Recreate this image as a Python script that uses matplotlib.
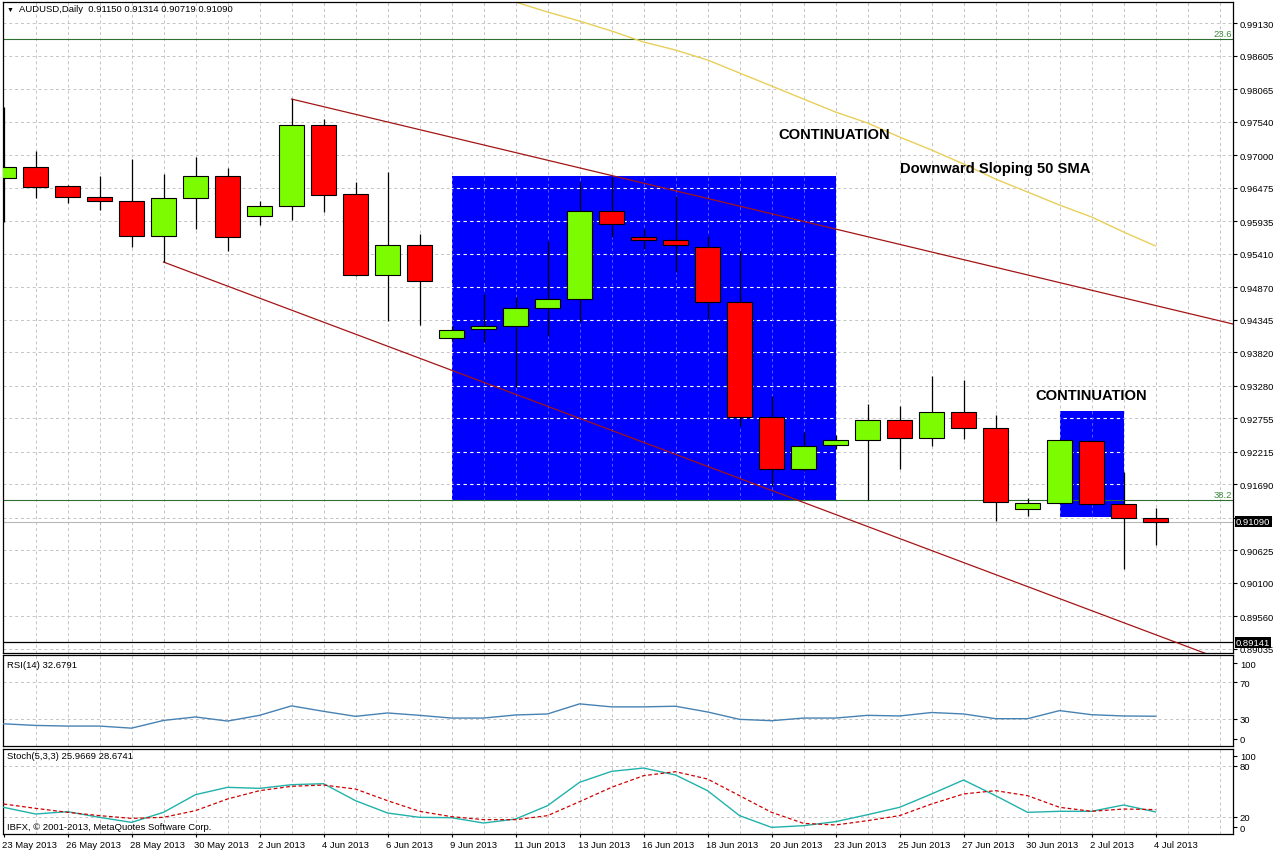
import numpy as np
import matplotlib
matplotlib.use("Agg")
import matplotlib.pyplot as plt
import matplotlib.transforms as mtransforms
from matplotlib.patches import Rectangle

plt.rcParams["font.family"] = ["Liberation Sans", "DejaVu Sans"]

# ---- daily AUDUSD bars (23 May 2013 .. 4 Jul 2013, IBFX feed incl. Sunday bars)
OPEN = [0.96634, 0.96812, 0.96505, 0.96328, 0.96263, 0.95698, 0.96311, 0.96666,
        0.96021, 0.96182, 0.97490, 0.96376, 0.95069, 0.95553, 0.94052, 0.94197,
        0.94245, 0.94536, 0.94681, 0.96102, 0.95682, 0.95634, 0.95521, 0.94633,
        0.92777, 0.91937, 0.92325, 0.92405, 0.92728, 0.92438, 0.92857, 0.92599,
        0.91292, 0.91389, 0.92389, 0.91372, 0.91150]
HIGH = [0.97780, 0.97070, 0.96521, 0.96666, 0.96941, 0.96699, 0.96973, 0.96796,
        0.96263, 0.97909, 0.97586, 0.96570, 0.96731, 0.95730, 0.94245, 0.94762,
        0.94714, 0.95617, 0.96570, 0.96650, 0.95811, 0.96344, 0.95698, 0.95456,
        0.93116, 0.92535, 0.92486, 0.92987, 0.92954, 0.93438, 0.93374, 0.92809,
        0.91469, 0.92422, 0.92405, 0.91889, 0.91314]
LOW = [0.95924, 0.96311, 0.96231, 0.96118, 0.95521, 0.95278, 0.95811, 0.95456,
       0.95876, 0.95956, 0.96085, 0.95052, 0.94326, 0.94262, 0.94003, 0.93987,
       0.93261, 0.94084, 0.94310, 0.95682, 0.95488, 0.95117, 0.94358, 0.92631,
       0.91663, 0.91905, 0.92260, 0.91437, 0.91937, 0.92309, 0.92422, 0.91098,
       0.91179, 0.91372, 0.91356, 0.90323, 0.90719]
CLOSE = [0.96812, 0.96489, 0.96328, 0.96263, 0.95698, 0.96311, 0.96666, 0.95682,
         0.96182, 0.97490, 0.96360, 0.95069, 0.95553, 0.94972, 0.94181, 0.94245,
         0.94536, 0.94681, 0.96102, 0.95892, 0.95634, 0.95553, 0.94633, 0.92777,
         0.91937, 0.92309, 0.92405, 0.92728, 0.92438, 0.92857, 0.92599, 0.91405,
         0.91389, 0.92405, 0.91372, 0.91150, 0.91090]

# 50 SMA, bars 15..36 (enters the window from above)
SMA_START = 15
SMA50 = [0.99636, 0.99475, 0.99313, 0.99168, 0.99007, 0.98829, 0.98700, 0.98539,
         0.98329, 0.98119, 0.97909, 0.97699, 0.97522, 0.97296, 0.97086, 0.96860,
         0.96618, 0.96408, 0.96198, 0.96005, 0.95763, 0.95537]

RSI = [24.4, 22.6, 21.9, 21.9, 19.6, 28.1, 31.9, 27.4, 33.7, 44.1, 38.1, 32.6,
       36.3, 33.7, 30.7, 30.7, 34.1, 35.2, 46.3, 43.0, 43.0, 43.7, 37.4, 29.3,
       27.8, 30.7, 30.7, 33.7, 33.0, 36.8, 35.2, 30.0, 30.0, 38.9, 34.4, 33.0, 32.7]
STOCH_K = [31.4, 23.5, 26.3, 19.6, 13.7, 25.5, 46.3, 54.9, 53.7, 58.0, 59.2, 39.2,
           24.7, 19.6, 19.2, 12.9, 17.6, 33.3, 60.8, 73.7, 77.6, 69.4, 51.0, 21.6,
           7.8, 9.8, 14.5, 22.7, 31.4, 47.1, 63.5, 45.1, 25.5, 26.7, 26.7, 34.1, 26.0]
STOCH_D = [35.3, 30.2, 25.5, 21.6, 18.4, 19.6, 27.5, 41.2, 51.0, 56.1, 57.6, 52.9,
           39.2, 26.7, 20.4, 16.9, 16.9, 21.6, 38.0, 54.9, 68.6, 73.3, 64.7, 45.1,
           25.5, 12.5, 10.6, 15.7, 21.6, 35.3, 47.1, 51.0, 45.1, 31.4, 26.7, 29.4, 28.7]

# drawn objects (bar index, price)
UPPER_LINE = ([9, 39], [0.97909, 0.94206])
LOWER_LINE = ([5, 39], [0.95278, 0.88682])
FIB_LEVELS = [(0.98873, "23.6"), (0.91437, "38.2")]
BOXES = [(14, 26, 0.91437, 0.96666), (33, 35, 0.91163, 0.92873)]
LAST_PRICE = 0.91090
HLINE_PRICE = 0.89141

PRICE_TICKS = [0.99130, 0.98605, 0.98065, 0.97540, 0.97000, 0.96475, 0.95935,
               0.95410, 0.94870, 0.94345, 0.93820, 0.93280, 0.92755, 0.92215,
               0.91690, 0.91150, 0.90625, 0.90100, 0.89560, 0.89035]
DATE_POS = list(range(0, 37, 2))
DATE_LABELS = ["23 May 2013", "26 May 2013", "28 May 2013", "30 May 2013",
               "2 Jun 2013", "4 Jun 2013", "6 Jun 2013", "9 Jun 2013",
               "11 Jun 2013", "13 Jun 2013", "16 Jun 2013", "18 Jun 2013",
               "20 Jun 2013", "23 Jun 2013", "25 Jun 2013", "27 Jun 2013",
               "30 Jun 2013", "2 Jul 2013", "4 Jul 2013"]

BULL, BEAR = "#7cfc00", "#ff0000"
GRID = "#c4c4c4"
DASH = (0, (3, 3))
FS = 6.8
W, H = 1276, 853


def px_box(x0, y0, x1, y1):
    return [x0 / W, 1 - y1 / H, (x1 - x0) / W, (y1 - y0) / H]


fig = plt.figure(figsize=(W / 100, H / 100), dpi=100)
ax = fig.add_axes(px_box(3, 3, 1233, 654))
ax_rsi = fig.add_axes(px_box(3, 656, 1233, 747))
ax_st = fig.add_axes(px_box(3, 750, 1233, 835))

XLIM = (-0.016, 38.42)
for a in (ax, ax_rsi, ax_st):
    a.set_xlim(*XLIM)
    for s in a.spines.values():
        s.set_linewidth(0.9)
        s.set_color("black")
    a.yaxis.tick_right()
    a.tick_params(axis="y", direction="out", length=3, width=0.8, pad=2,
                  labelsize=FS, colors="black")
    a.tick_params(axis="x", direction="out", length=2, width=0.8, pad=2,
                  labelsize=FS)
    for i in range(1, 39):
        a.axvline(i, color=GRID, lw=0.7, ls=DASH, zorder=0.5)

# ---- main price window
ax.set_ylim(0.88968, 0.99475)
ax.set_yticks(PRICE_TICKS)
ax.set_yticklabels([f"{p:.5f}" for p in PRICE_TICKS])
ax.set_xticks([])
for p in PRICE_TICKS:
    ax.axhline(p, color=GRID, lw=0.7, ls=DASH, zorder=0.5)

for x0, x1, y0, y1 in BOXES:
    rect = Rectangle((x0, y0), x1 - x0, y1 - y0, fc="#0000ff", ec="none", zorder=1)
    ax.add_patch(rect)
    for p in PRICE_TICKS:
        ln = ax.axhline(p, color="white", lw=0.8, ls=DASH, zorder=1.1)
        ln.set_clip_path(rect)
    for i in range(1, 39):
        ln = ax.axvline(i, color="#5c5cff", lw=0.7, ls=DASH, zorder=1.1)
        ln.set_clip_path(rect)

blend = mtransforms.blended_transform_factory(ax.transAxes, ax.transData)
for lvl, name in FIB_LEVELS:
    ax.axhline(lvl, color="#2f6f2f", lw=0.8, zorder=1.5)
    ax.annotate(name, xy=(1, lvl), xycoords=blend, xytext=(-1, 1.5),
                textcoords="offset pixels", ha="right", va="bottom",
                fontsize=FS, color="#3c8a3c")

ax.axhline(LAST_PRICE, color="#b8b8b8", lw=0.8, zorder=1.4)
ax.axhline(HLINE_PRICE, color="black", lw=0.9, zorder=1.5)

ax.plot(*UPPER_LINE, color="#a31515", lw=0.9, zorder=2)
ax.plot(*LOWER_LINE, color="#a31515", lw=0.9, zorder=2)
ax.plot(range(SMA_START, SMA_START + len(SMA50)), SMA50, color="#e8cf5a",
        lw=1.0, zorder=2)

o = np.array(OPEN)
c = np.array(CLOSE)
xs = np.arange(len(OPEN))
ax.vlines(xs, LOW, HIGH, color="black", lw=0.9, zorder=3)
body = np.maximum(np.abs(c - o), 0.00012)
ax.bar(xs, body, bottom=np.minimum(o, c), width=0.78,
       color=[BULL if cc >= oo else BEAR for oo, cc in zip(o, c)],
       edgecolor="black", linewidth=0.8, zorder=4)

bold = dict(fontsize=10.6, fontweight="bold", color="black", zorder=6,
            ha="left", va="baseline")
ax.text(24.2, 0.97280, "CONTINUATION", **bold)
ax.text(28.02, 0.96739, "Downward Sloping 50 SMA", **bold)
ax.text(32.23, 0.93067, "CONTINUATION", **bold)

for val in (LAST_PRICE, HLINE_PRICE):
    ax.annotate(f"{val:.5f}", xy=(1, val), xycoords=blend, xytext=(3, 0),
                textcoords="offset pixels", ha="left", va="center",
                fontsize=FS, color="white", annotation_clip=False, zorder=10,
                bbox=dict(boxstyle="square,pad=0.12", fc="black", ec="none"))

ax.annotate("\u25bc", xy=(0, 1), xycoords="axes fraction", xytext=(4, -7),
            textcoords="offset pixels", ha="left", va="center", fontsize=5)
ax.annotate("AUDUSD,Daily  0.91150 0.91314 0.90719 0.91090", xy=(0, 1),
            xycoords="axes fraction", xytext=(16, -7), textcoords="offset pixels",
            ha="left", va="center", fontsize=FS)

# ---- RSI window
ax_rsi.set_ylim(0, 100)
ax_rsi.set_xticks([])
ax_rsi.set_yticks([91, 70, 30, 8])
ax_rsi.set_yticklabels(["100", "70", "30", "0"])
for lv in (70, 30):
    ax_rsi.axhline(lv, color=GRID, lw=0.7, ls=DASH, zorder=0.5)
ax_rsi.plot(xs, RSI, color="#4682b4", lw=1.0, zorder=3)
ax_rsi.annotate("RSI(14) 32.6791", xy=(0, 1), xycoords="axes fraction",
                xytext=(4, -10), textcoords="offset pixels", ha="left",
                va="center", fontsize=FS)

# ---- Stochastic window
ax_st.set_ylim(0, 100)
ax_st.set_yticks([92, 80, 20, 8])
ax_st.set_yticklabels(["100", "80", "20", "0"])
for lv in (80, 20):
    ax_st.axhline(lv, color=GRID, lw=0.7, ls=DASH, zorder=0.5)
ax_st.plot(xs, STOCH_K, color="#20b2aa", lw=1.0, zorder=3)
ax_st.plot(xs, STOCH_D, color="#d00000", lw=0.9, ls=(0, (3, 2)), zorder=3)
ax_st.annotate("Stoch(5,3,3) 25.9669 28.6741", xy=(0, 1), xycoords="axes fraction",
               xytext=(4, -7), textcoords="offset pixels", ha="left",
               va="center", fontsize=FS)
ax_st.annotate("IBFX, \u00a9 2001-2013, MetaQuotes Software Corp.", xy=(0, 0),
               xycoords="axes fraction", xytext=(4, 7), textcoords="offset pixels",
               ha="left", va="center", fontsize=FS)
ax_st.set_xticks(DATE_POS)
ax_st.set_xticklabels(DATE_LABELS)
shift = mtransforms.ScaledTranslation(-2 / 100, 0, fig.dpi_scale_trans)
for lab in ax_st.get_xticklabels():
    lab.set_ha("left")
    lab.set_transform(lab.get_transform() + shift)

fig.savefig("out.png", dpi=100, facecolor="white")
